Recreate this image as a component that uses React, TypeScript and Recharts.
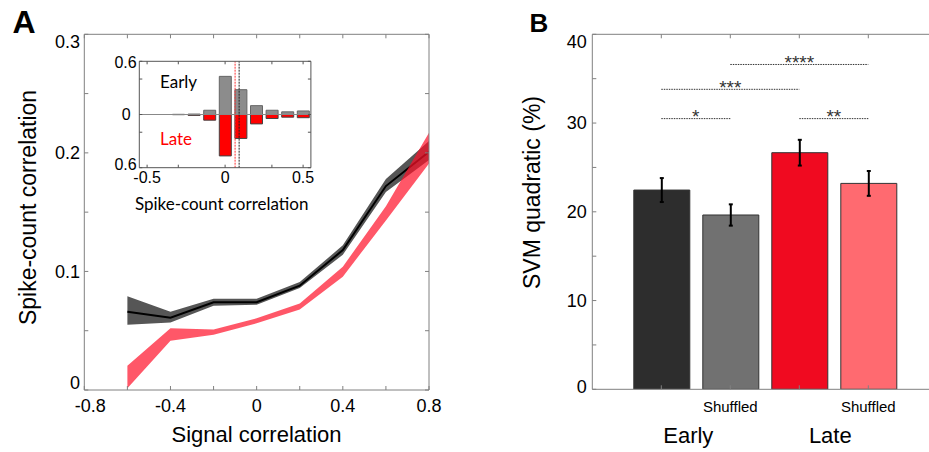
import React from 'react';
import {
  ComposedChart,
  Bar,
  Area,
  XAxis,
  YAxis,
  ReferenceLine,
  ErrorBar,
  Cell,
} from 'recharts';

// ---------- Panel A data ----------
const signalCorr = [-0.6, -0.4, -0.2, 0, 0.2, 0.4, 0.6, 0.8];
const earlyMean = [0.066, 0.061, 0.074, 0.074, 0.088, 0.118, 0.172, 0.201];
const earlyLow = [0.055, 0.057, 0.071, 0.072, 0.086, 0.114, 0.167, 0.194];
const earlyHigh = [0.079, 0.066, 0.077, 0.077, 0.091, 0.122, 0.178, 0.21];
const lateLow = [0.0015, 0.0415, 0.0465, 0.0562, 0.068, 0.0956, 0.143, 0.191];
const lateHigh = [0.0205, 0.052, 0.051, 0.0605, 0.073, 0.104, 0.155, 0.217];

const xTicksA = [-0.8, -0.6, -0.4, -0.2, 0, 0.2, 0.4, 0.6, 0.8];
const xLabelsA = [-0.8, -0.4, 0, 0.4, 0.8];
const yTicksA = [0, 0.05, 0.1, 0.15, 0.2, 0.25, 0.3];
const yLabelsA = [0, 0.1, 0.2, 0.3];

// ---------- Inset histogram data ----------
const binCenters = [-0.5, -0.4, -0.3, -0.2, -0.1, 0, 0.1, 0.2, 0.3, 0.4, 0.5];
const earlyHist = [0, 0, 0.002, 0.005, 0.048, 0.43, 0.28, 0.1, 0.048, 0.03, 0.04];
const lateHist = [0, 0, 0.002, 0.01, 0.064, 0.467, 0.27, 0.106, 0.045, 0.03, 0.036];
const earlyMedian = 0.09;
const lateMedian = 0.064;
const insetXTicks = [-0.5, -0.3, 0, 0.3, 0.5];
const insetXLabels = [-0.5, 0, 0.5];
const insetYTicks = [-0.6, -0.2, 0, 0.4, 0.6];
const insetYLabels = [-0.6, 0, 0.6];

// ---------- Panel B data ----------
const svmCategories = ['Early', 'Early shuffled', 'Late', 'Late shuffled'];
const svmValues = [22.45, 19.64, 26.66, 23.2];
const svmErrors = [1.35, 1.2, 1.45, 1.4];
const svmTickLabels = ['', 'Shuffled', '', 'Shuffled'];
const groupLabels = ['Early', '', 'Late', ''];
const yTicksB = [0, 5, 10, 15, 20, 25, 30, 35, 40];
const yLabelsB = [0, 10, 20, 30, 40];
const sigFrom = ['Early', 'Early', 'Early shuffled', 'Late'];
const sigTo = ['Early shuffled', 'Late', 'Late shuffled', 'Late shuffled'];
const sigLevel = [30.5, 33.8, 36.6, 30.5];
const sigStars = ['*', '***', '****', '**'];

// ---------- styles ----------
const FONT = '"Liberation Sans", Arial, Helvetica, sans-serif';
const INSET_FONT = 'Lato, "Open Sans", sans-serif';
const AXIS = '#808080';
const BAR_FILLS = ['#2d2d2d', '#717171', '#f00a20', '#ff6a70'];

const dataA = signalCorr.map((x, i) => ({
  x,
  earlyMean: earlyMean[i],
  earlyBand: [earlyLow[i], earlyHigh[i]],
  lateBand: [lateLow[i], lateHigh[i]],
}));

const dataInset = binCenters.map((bin, i) => ({
  bin,
  early: earlyHist[i],
  late: -lateHist[i],
}));

const dataB = svmCategories.map((name, i) => ({
  name,
  value: svmValues[i],
  err: [svmErrors[i], svmErrors[i]],
}));

const near = (a: number, b: number) => Math.abs(a - b) < 1e-9;
const fmt = (v: number) => String(Math.round(v * 100) / 100);

function XTickA(props: any) {
  const { x, payload } = props;
  const v = payload.value;
  if (!xLabelsA.some((l) => near(l, v))) return <g />;
  const shift = near(v, -0.8) ? 6 : 0;
  return (
    <text x={x + shift} y={412} textAnchor="middle" fontSize={18} fontFamily={FONT} fill="#000">
      {fmt(v)}
    </text>
  );
}

function YTickA(props: any) {
  const { y, payload } = props;
  const v = payload.value;
  if (!yLabelsA.some((l) => near(l, v))) return <g />;
  const shift = near(v, 0.3) ? 7.4 : near(v, 0) ? -7 : 0;
  return (
    <text x={80} y={y + 6.4 + shift} textAnchor="end" fontSize={18} fontFamily={FONT} fill="#000">
      {fmt(v)}
    </text>
  );
}

function XTickInset(props: any) {
  const { x, payload } = props;
  const v = payload.value;
  if (!insetXLabels.some((l) => near(l, v))) return <g />;
  return (
    <text x={x} y={143.3} textAnchor="middle" fontSize={16} fontFamily={FONT} fill="#000">
      {fmt(v)}
    </text>
  );
}

function YTickInset(props: any) {
  const { y, payload } = props;
  const v = payload.value;
  if (!insetYLabels.some((l) => near(l, v))) return <g />;
  const shift = near(v, 0.6) ? 1.2 : near(v, -0.6) ? -3.2 : 0;
  const right = near(v, 0) ? 30.7 : 36.7;
  return (
    <text x={right} y={y + 5.7 + shift} textAnchor="end" fontSize={16} fontFamily={FONT} fill="#000">
      {fmt(Math.abs(v))}
    </text>
  );
}

function XTickB(props: any) {
  const { x, index } = props;
  const sub = svmTickLabels[index];
  const grp = groupLabels[index];
  const grpOffset = index === 0 ? 27 : 31;
  return (
    <g>
      {sub ? (
        <text x={x} y={412} textAnchor="middle" fontSize={15} fontFamily={FONT} fill="#000">
          {sub}
        </text>
      ) : null}
      {grp ? (
        <text x={x + grpOffset} y={443.3} textAnchor="middle" fontSize={22} fontFamily={FONT} fill="#000">
          {grp}
        </text>
      ) : null}
    </g>
  );
}

function YTickB(props: any) {
  const { y, payload } = props;
  const v = payload.value;
  if (!yLabelsB.some((l) => near(l, v))) return <g />;
  const shift = near(v, 40) ? 7.4 : near(v, 0) ? -2.6 : 0;
  return (
    <text x={126.7} y={y + 6.4 + shift} textAnchor="end" fontSize={18} fontFamily={FONT} fill="#000">
      {fmt(v)}
    </text>
  );
}

const sigShape = (stars: string) => (p: any) => {
  const { x1, y1, x2, y2 } = p;
  return (
    <g>
      <line x1={x1} y1={y1} x2={x2} y2={y2} stroke="#333" strokeWidth={1} strokeDasharray="1.5 1" />
      <text
        x={(x1 + x2) / 2}
        y={y1 + 4.7}
        textAnchor="middle"
        fontSize={19}
        fontFamily={FONT}
        fill="#333"
      >
        {stars}
      </text>
    </g>
  );
};

const blank = () => '';

export default function App() {
  return (
    <div
      style={{
        position: 'absolute',
        left: 0,
        top: 0,
        width: 929,
        height: 452,
        overflow: 'hidden',
        background: '#fff',
        fontFamily: FONT,
      }}
    >
      {/* Panel A */}
      <div style={{ position: 'absolute', left: 0, top: 0 }}>
        <ComposedChart width={460} height={452} data={dataA} margin={{ top: 33.3, right: 30, bottom: 0, left: 0 }}>
          <XAxis
            dataKey="x"
            type="number"
            domain={[-0.8, 0.8]}
            allowDataOverflow
            ticks={xTicksA}
            interval={0}
            height={62}
            tickSize={-4}
            stroke={AXIS}
            tickLine={{ stroke: AXIS }}
            tick={XTickA}
            label={() => (
              <text x={256.5} y={442} textAnchor="middle" fontSize={22} fontFamily={FONT} fill="#000">
                Signal correlation
              </text>
            )}
          />
          <XAxis
            xAxisId="top"
            orientation="top"
            dataKey="x"
            type="number"
            domain={[-0.8, 0.8]}
            allowDataOverflow
            ticks={xTicksA}
            interval={0}
            height={1}
            tickSize={-4}
            stroke={AXIS}
            tickFormatter={blank}
          />
          <YAxis
            type="number"
            domain={[0, 0.3]}
            allowDataOverflow
            ticks={yTicksA}
            interval={0}
            width={84.3}
            tickSize={-4}
            stroke={AXIS}
            tick={YTickA}
            label={() => (
              <text
                transform="translate(36,207.5) rotate(-90)"
                textAnchor="middle"
                fontSize={23}
                fontFamily={FONT}
                fill="#000"
              >
                Spike-count correlation
              </text>
            )}
          />
          <YAxis
            yAxisId="right"
            orientation="right"
            type="number"
            domain={[0, 0.3]}
            allowDataOverflow
            ticks={yTicksA}
            interval={0}
            width={1}
            tickSize={-4}
            stroke={AXIS}
            tickFormatter={blank}
          />
          <Area
            dataKey="earlyBand"
            type="linear"
            stroke="none"
            fill="#565656"
            fillOpacity={1}
            dot={false}
            activeDot={false}
            isAnimationActive={false}
          />
          <Area
            dataKey="earlyMean"
            type="linear"
            stroke="#000"
            strokeWidth={2}
            fill="none"
            fillOpacity={0}
            dot={false}
            activeDot={false}
            isAnimationActive={false}
          />
          <Area
            dataKey="lateBand"
            type="linear"
            stroke="none"
            fill="#ff1028"
            fillOpacity={0.7}
            dot={false}
            activeDot={false}
            isAnimationActive={false}
          />
        </ComposedChart>
      </div>

      {/* Inset */}
      <div style={{ position: 'absolute', left: 100, top: 40 }}>
        <ComposedChart
          width={220}
          height={180}
          data={dataInset}
          stackOffset="sign"
          margin={{ top: 20.3, right: 8.1, bottom: 0, left: 0 }}
        >
          <XAxis
            dataKey="bin"
            type="number"
            domain={[-0.55, 0.55]}
            allowDataOverflow
            ticks={insetXTicks}
            interval={0}
            height={52.3}
            tickSize={-3}
            stroke="#555"
            tick={XTickInset}
            label={() => (
              <text x={121.7} y={170} textAnchor="middle" fontSize={17} fontFamily={INSET_FONT} fill="#000">
                Spike-count correlation
              </text>
            )}
          />
          <XAxis
            xAxisId="top"
            orientation="top"
            dataKey="bin"
            type="number"
            domain={[-0.55, 0.55]}
            allowDataOverflow
            ticks={insetXTicks}
            interval={0}
            height={1}
            tickSize={-3}
            stroke="#555"
            tickFormatter={blank}
          />
          <YAxis
            type="number"
            domain={[-0.6, 0.6]}
            allowDataOverflow
            ticks={insetYTicks}
            interval={0}
            width={39.3}
            tickSize={-3}
            stroke="#555"
            tick={YTickInset}
          />
          <YAxis
            yAxisId="right"
            orientation="right"
            type="number"
            domain={[-0.6, 0.6]}
            allowDataOverflow
            ticks={insetYTicks}
            interval={0}
            width={1}
            tickSize={-3}
            stroke="#555"
            tickFormatter={blank}
          />
          <Bar dataKey="early" stackId="h" barSize={12} fill="#8c8c8c" stroke="#666" strokeWidth={1} isAnimationActive={false} />
          <Bar dataKey="late" stackId="h" barSize={12} fill="#ff0000" stroke="#444" strokeWidth={1} isAnimationActive={false} />
          <ReferenceLine y={0} stroke="#888" strokeWidth={1} ifOverflow="visible" />
          <ReferenceLine x={lateMedian} stroke="#ff3030" strokeWidth={1} strokeDasharray="2 1" />
          <ReferenceLine x={earlyMedian} stroke="#222" strokeWidth={1} strokeDasharray="2 1" />
        </ComposedChart>
      </div>

      {/* Panel B */}
      <div style={{ position: 'absolute', left: 460, top: 0 }}>
        <ComposedChart width={480} height={452} data={dataB} margin={{ top: 33.3, right: 2.7, bottom: 0, left: 0 }}>
          <XAxis
            dataKey="name"
            type="category"
            padding={{ left: 34.5, right: 34.5 }}
            interval={0}
            height={62.7}
            tickSize={-4}
            stroke={AXIS}
            tick={XTickB}
          />
          <XAxis
            xAxisId="top"
            orientation="top"
            dataKey="name"
            type="category"
            padding={{ left: 34.5, right: 34.5 }}
            interval={0}
            height={1}
            tickSize={-4}
            stroke={AXIS}
            tickFormatter={blank}
          />
          <YAxis
            type="number"
            domain={[0, 40]}
            allowDataOverflow
            ticks={yTicksB}
            interval={0}
            width={132.3}
            tickSize={-4}
            stroke={AXIS}
            tick={YTickB}
            label={() => (
              <text
                transform="translate(79.8,192.5) rotate(-90)"
                textAnchor="middle"
                fontSize={23}
                fontFamily={FONT}
                fill="#000"
              >
                SVM quadratic (%)
              </text>
            )}
          />
          <Bar dataKey="value" barSize={56} stroke="#333" strokeWidth={1} isAnimationActive={false}>
            {dataB.map((d, i) => (
              <Cell key={d.name} fill={BAR_FILLS[i]} />
            ))}
            <ErrorBar dataKey="err" width={2} strokeWidth={2} stroke="#000" direction="y" />
          </Bar>
          {sigStars.map((s, i) => (
            <ReferenceLine
              key={s}
              segment={[
                { x: sigFrom[i], y: sigLevel[i] },
                { x: sigTo[i], y: sigLevel[i] },
              ]}
              ifOverflow="visible"
              shape={sigShape(s)}
            />
          ))}
        </ComposedChart>
      </div>

      {/* Panel letters and inset legend text */}
      <svg
        width={929}
        height={452}
        style={{ position: 'absolute', left: 0, top: 0, pointerEvents: 'none' }}
      >
        <text x={12.5} y={33.3} fontSize={32} fontWeight="bold" fontFamily={FONT} fill="#000">
          A
        </text>
        <text x={529.5} y={32.3} fontSize={26} fontWeight="bold" fontFamily={FONT} fill="#000">
          B
        </text>
        <text x={160} y={88.3} fontSize={17} fontFamily={INSET_FONT} fill="#000">
          Early
        </text>
        <text x={160} y={145} fontSize={17} fontFamily={INSET_FONT} fill="#ff0000">
          Late
        </text>
      </svg>
    </div>
  );
}
